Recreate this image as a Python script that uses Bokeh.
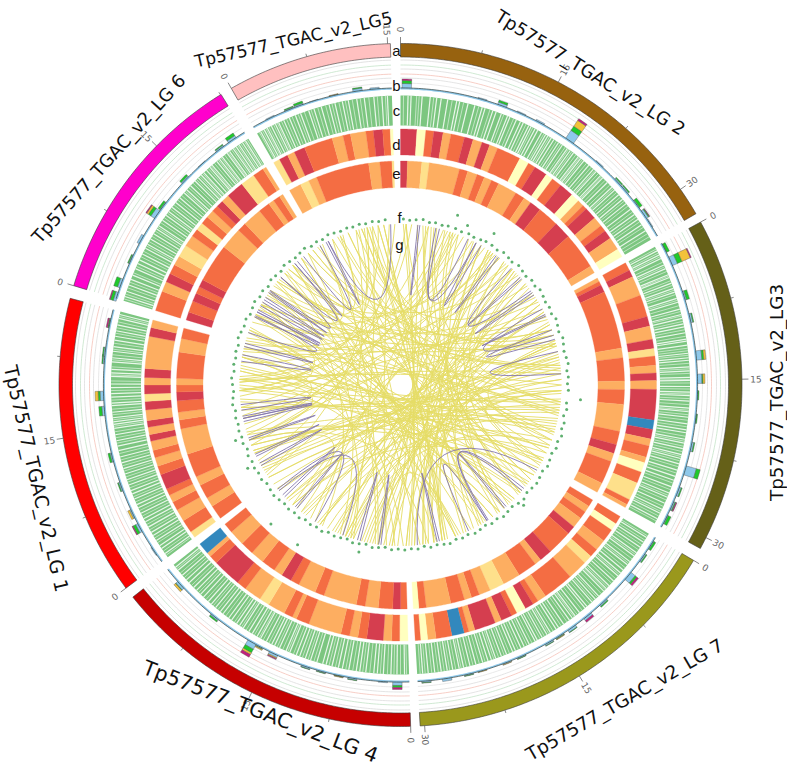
import math
from bokeh.plotting import figure
from bokeh.models import Range1d
from bokeh.core.properties import value
from bokeh.embed import file_html
from bokeh.resources import INLINE

# ---- sectors (name, start angle on the circle, length in Mb) ----
sector_names = ["LG2", "LG3", "LG7", "LG4", "LG1", "LG6", "LG5"]
sector_start = [0.0, 61.5, 120.9, 178.3, 233.5, 286.9, 330.3]
sector_end = [59.9, 118.6, 176.7, 231.6, 284.7, 328.3, 358.3]
sector_color = ["#97620f", "#656018", "#9a981c", "#c60000", "#ff0000", "#ff00cc", "#ffc0c0"]
deg_per_mb = 1.835

label_text = ["Tp57577_TGAC_v2_LG 2", "Tp57577_TGAC_v2_LG3", "Tp57577_TGAC_v2_LG 7", "Tp57577_TGAC_v2_LG 4",
              "Tp57577_TGAC_v2_LG 1", "Tp57577_TGAC_v2_LG 6", "Tp57577_TGAC_v2_LG5"]
track_letters = ["a", "b", "c", "d", "e", "f", "g"]

# ---- heat tracks d and e: end of each band + class of each band ----
heat_palette = {"R": "#d53e4f", "O": "#f46d43", "L": "#fdae61", "Y": "#fee08b", "P": "#ffffbf", "B": "#3288bd"}
d_stops = {
 "LG2": [3.7,5.7,7.5,9.6,11.4,14.5,16.5,18.6,20.4,22.3,27.8,30,31.7,34.7,36.4,38.7,42,44,45.5,46.5,49.3,51.5,53,55,58,59.9],
 "LG3": [63.4,65,69.5,74.5,76.7,79.7,81.8,83.5,85.6,87.3,89,91,97.9,100,102.2,103.8,106.4,107.7,109.9,112.5,116.6,117.8,118.6],
 "LG7": [122.8,124.5,127.5,130,132,134,138.5,145.5,147.5,148.8,150.8,153,154.3,156.8,158.3,163.1,164.5,165.6,168.4,172,173.9,175.5,176.7],
 "LG4": [180.2,182,183.9,187.6,189.6,191.5,193.5,201,204,205,207,211,213.3,217.3,219.5,226,228,229,231.6],
 "LG1": [235,238,240.8,242.8,244.5,246,249.5,251.5,253.5,255.2,257.3,258.8,260.5,262,264.4,266.3,268,270,271.7,273.7,281,283,284.7],
 "LG6": [291.5,293.8,295.8,298,300.2,303,305.6,307.4,309.2,311,312.8,314.3,315.9,317.7,321.7,325,327.5,328.3],
 "LG5": [331.8,333.8,335.5,338,344.5,347,348.7,352.2,353.9,356,357.7,358.3],
}
d_class = {
 "LG2": "RPORLORLRLOPORPORPLORLORLP", "LG3": "ORLORLRYOLRLRBRLOLPOYOL",
 "LG7": "OPOLOYLOLORPORLRLOBOLPO", "LG4": "POLROLOLOLOLYLOROLB",
 "LG1": "YOLOLOROLOLRLRLRYRLRLRL", "LG6": "OLROLYLOYOLORLRYOL", "LG5": "YRLROLOLOROP",
}
e_stops = {
 "LG2": [1.8,5.5,7.4,15.3,17.5,20,22,24,26,31,33.5,35.5,38.5,44,48.5,58,59.9],
 "LG3": [62.5,63.5,65.5,80.5,83,89,91.2,95,102,105.5,107.8,110,116,118.6],
 "LG7": [122.8,124.5,126.5,129.3,131.5,138,141.3,143,148,152.6,156.4,159.4,161.5,163.4,167,173.4,175.3,176.7],
 "LG4": [180,182,185.7,189.1,191.4,200,202.4,207,209.3,212,214.3,218,221.5,225,229,231.6],
 "LG1": [237.2,239.7,243.4,245.8,252,258.7,261,263,266,268.2,270,271.7,278.5,282,284.7],
 "LG6": [289,292,294.2,296,298,308,313.7,316,321,324,325.5,327.3,328.3],
 "LG5": [333.5,335.8,338,351.8,354.7,357.8,358.3],
}
e_class = {
 "LG2": "RLYLOLOLOLOLROROL", "LG3": "LOROLOLOLORLOL",
 "LG7": "OLOLRORLOLYLOLOLOP", "LG4": "OROLOLOLORLOLOLO",
 "LG1": "OLOLOLOLOROLOLO", "LG6": "ROROROLOLOLOL", "LG5": "LYLOLOY",
}

# ---- track b: stacked bars (position on circle, blue, green, yellow, pink) ----
b_pos = [1.2,16,20,24,28,34.7,42,47,49,52.5,55,57,
         62.6,65.4,72.5,77,84.3,88.8,92,96.5,102,106.7,111,114,116.9,
         122.6,125.5,130,137,141,144.8,147.6,150,156,159,164,166.7,171,175,
         180.6,183.4,189.3,192,195.5,198.6,205.3,208.5,210,218.7,227.7,
         236,241.3,244.3,250,255.9,265,267.9,275,276.4,282,
         287.3,290,295,299.3,305,307,313.6,318,322.6,325.5,
         334,338,340,343,347,351.7,355]
b_blue = [5,1.5,3,1.5,2,10,1.5,2,2,1.5,3,1.5,
          1,6,2,2.5,6,5,1,1,2.5,11,2.5,2,1.5,
          1.5,2,6,2,3,3,1.5,2,1.5,1.5,1,1.5,3,2,
          4,1.5,2,1,1.5,2,3,1.5,6,2,3,
          1.5,3,2,2,2,3,4,2,2,1,
          3,3,1.5,3,5,1.5,2,1,2,3,
          1.5,1.5,2,1,1,3,2]
b_green = [3,0,2,0,0,5,0,1,1,3,1,0,
           3,5,3,1,2,1,1,1,1,4,1,1,3,
           2,1,2,1,0,0.5,0.5,0.5,0.5,0,0,0.5,0,0.5,
           2,0,0.5,0.5,0.5,0.5,0,0.5,4,1.5,0.5,
           0,3,0,1,2,3,2,1,1,1,
           3,4,1,0,3,2,2,0,1,3,
           0,1,2,0,0,1,0]
b_yellow = [0,0,0,0,0,7,0,0,0,0,0,0,
            0,9,0,0,2,2,0,0,0,0,0,0,0,
            0,0,0,0,0,0,0.5,0,0,0.5,0.5,0,0,0,
            0,0,0,0.5,0,0,1,1,2,0,2,
            0,0,2,0,0,0,3,0,0,0,
            0,0,0,0,2,0,0,0,0,0,
            0,0,0,0,0.5,0,0]
b_pink = [1.5,0,0,0,0,2,0,0,0,0,0.5,0,
          0,1,0,0,0,0,0,0,0,0,0,1,0,
          0,0,2,0,2,0,0,0,0,0,0,0,0,0,
          2,0,0,0,0,0,1,0,3,0,0,
          0,1,0,0,0,0,0,0,0,1.5,
          1,0,0,0,1,0,0,0,0,0,
          0,0,0,0,0,0,0]

# ---- track c: positions of the pale gaps between the green marks ----
c_gaps = {
 "LG2": [1.5,2.1,4.3,5.9,7.2,8.1,9.4,11.2,11.8,13.5,14.9,16.4,17,18.6,19.3,20.4,21.7,22.2,23.6,24.5,25.1,26.3,26.8,27.7,28.3,29.2,30.1,30.6,31.4,32,33.1,34,35.2,35.9,36.7,37.9,38.5,39.3,40.6,41.8,42.5,43.7,44.3,45.6,46.9,47.7,48.9,50.1,51.2,52.6,53.9,55.1,56.4,57.8],
 "LG3": [62.4,63.3,64.1,65.5,66.3,67.6,68.2,69.4,70.5,71.3,72.6,73.4,74.8,75.9,76.7,77.8,78.4,79.6,80.9,81.3,82.1,83.7,84.6,85.1,86.4,87.2,88.5,89.1,90.3,91.4,92.1,93.2,94.6,95.3,96.4,97.7,98.9,99.5,100.8,101.6,102.7,103.9,104.7,105.8,107.1,108.4,109.2,110.6,111.9,112.8,114.1,115.4,116.3,117.5],
 "LG7": [121.8,122.9,124.1,125.4,126.2,127.6,128.4,129.7,130.5,131.3,132.6,133.9,134.7,135.4,136.8,137.7,138.6,139.9,140.4,141.8,142.9,143.6,144.3,145.7,146.9,147.5,148.8,149.6,150.7,151.8,152.3,153.6,154.7,155.4,156.6,157.2,158.5,159.6,160.8,161.7,162.4,163.5,164.9,166.1,167.4,168.3,169.6,170.7,171.9,173.2,174.5,175.6],
 "LG4": [179.2,180.7,181.9,183.4,184.6,185.3,186.9,188.1,188.8,190.3,191.6,192.4,193.7,194.9,195.6,196.8,198.1,199.2,200.4,201.1,202.5,203.3,204.7,205.8,206.4,207.6,208.9,209.7,210.8,211.6,212.9,213.8,214.5,215.7,216.4,217.8,218.5,219.7,220.8,221.6,222.9,223.7,224.8,225.6,226.9,227.7,228.9,230.2,231],
 "LG1": [234.4,235.6,236.3,237.5,238.7,239.4,240.6,241.8,242.5,243.7,244.9,245.6,246.8,247.9,248.6,249.8,250.9,252.1,253.2,254.4,255.6,256.9,257.8,258.9,260.1,261.4,262.2,262.7,263.5,264.6,265.9,266.4,267.6,268.3,269.5,270.2,271.7,272.4,273.1,274.6,275.4,276.7,277.6,278.9,279.7,280.8,282,283.3,284.1],
 "LG6": [287.8,288.9,290.2,291.4,292.3,293.7,294.8,295.6,296.9,298.2,299.1,300.3,301.5,302.6,303.4,304.7,305.9,306.8,307.9,309.1,310.3,311.6,312.4,313.5,314.8,315.7,316.5,317.2,317.9,318.8,319.4,320.6,321.3,322,323.2,323.8,324.7,325.4,326.1,326.9,327.6],
 "LG5": [331.1,331.9,332.6,333.5,334.4,335.1,336.2,337.4,338.7,339.8,341.5,342.6,344.1,345.7,346.9,348.4,349.6,351.3,352.8,354.7,356.3,357.4],
}
c_fine = {
 "LG2": [0.6,3.2,3.7,6.6,10.3,12.6,15.7,18,20.9,23,25.7,27.2,29.7,31,32.6,33.6,34.7,35.5,36.3,37.3,38.2,38.9,40,41.2,42.2,43.1,44,45,46.3,47.3,48.3,49.5,50.6,51.8,53.3,54.5,55.7,57,58.5,59.2],
 "LG3": [62,62.9,63.7,64.9,65.9,66.9,67.9,68.9,69.9,70.9,71.8,73,74.1,75.3,76.2,77.3,79,80.3,82.7,83.2,84.1,85.7,86.8,87.7,88.9,89.6,90.8,91.8,92.7,93.9,95,95.9,97,98.3,100.2,101.2,102.2,103.3,104.3,105.2,106.4,107.7,109.8,111.2,112.4,113.4,114.8,115.9,116.9,118],
 "LG7": [121.4,122.4,123.5,124.7,125.8,126.9,128,129.1,130.9,132,133.2,134.3,135,136.1,137.2,138.2,139.2,141.1,142.4,143.2,144.9,146.3,148.2,149.2,150.2,151.2,153,154.1,156,157.9,159,160.2,161.2,163,164.2,165.5,166.8,167.9,169,170.2,171.3,172.5,173.8,175.1,176.1],
 "LG4": [178.8,180,181.3,182.6,184,186.1,187.5,189.5,190.9,193,194.3,197.4,198.6,199.8,201.7,202.9,204,205.2,207,208.3,209.2,210.3,212.2,213.3,215,217.1,219.1,220.3,222.2,224.2,226.2,228.3,229.5,230.6],
 "LG1": [234,235,237,238.1,240,241.2,243.1,244.3,246.2,247.3,249.2,250.4,251.5,252.7,253.8,255,256.3,258.4,259.5,260.7,261.8,263.1,264.1,265.2,267,268.9,270.8,272,273.6,275,276,277.1,278.3,280.3,281.4,282.6,283.7],
 "LG6": [287.3,288.3,289.6,290.8,292.8,294.2,296.3,297.5,298.7,299.7,300.9,302.1,303,304.1,305.3,306.4,307.4,308.5,309.7,310.9,312,313,314.2,315.2,316.1,316.9,318.4,319.1,320,321,321.7,322.6,323.5,324.3,325,325.8,326.5,327.3,328],
 "LG5": [330.8,331.5,332.3,333,334,334.8,335.7,336.8,338,339.3,340.6,342,343.4,345,346.3,347.7,349,350.4,352,353.7,355.4,357],
}

# ---- track f: points (position on circle, radial value) ----
f_angle = [1,3.2,5.4,7.8,10.1,12.2,14.6,16.7,18.6,19.4,21.7,22.8,24.3,26.4,28.9,30.8,31.7,33.2,35.6,37.9,40.3,42.2,44.7,46.9,49.1,51.4,53.6,55.7,58.1,60.2,
           62.4,64.7,66.9,69.2,71.4,73.8,75.9,78.3,80.6,82.7,85.1,87.3,89.6,91.8,94.7,96.2,98.4,100.7,103.1,105.2,107.6,109.8,112.1,114.3,116.7,118.9,
           121.2,123.6,125.8,128.1,130.4,132.7,134.3,135.1,137.4,139.7,141.9,144.2,146.6,148.8,151.1,153.3,155.7,157.9,160.2,162.6,164.7,167.1,169.4,171.6,173.9,176.2,
           178.5,180.8,183.1,185.4,187.7,189.9,192.2,194,194.6,196.9,199.1,201.4,203.7,206.1,208.3,210.6,212.8,212.9,215.2,217.4,219.7,222.1,223,224.3,226.6,228.9,231.2,
           233.6,235.8,238.2,240.4,241.4,242.7,245.1,247.3,249.6,251.4,251.9,254.1,256.4,258.7,261.1,263.3,265.6,267.8,270.2,272.4,274.7,277.1,279.3,281.6,283.8,
           286.2,288.4,290.7,293.1,295.2,297.6,299.8,302.1,304.4,306.7,309.1,311.2,313.6,315.8,318.1,320.4,322.7,324.9,327.3,329.6,331.8,334.2,336.4,338.7,341.1,343.2,345.6,347.8,350.2,352.4,354.7,356.9,359.2]
f_radius = [166,165,166,167,165,166,165,166,179,166,165,173,166,165,166,167,178,167,166,168,167,166,168,167,166,168,167,169,168,167,
            168,167,169,168,167,169,168,167,168,169,167,168,167,168,180.6,167,168,166,168,167,169,167,168,166,167,168,
            166,167,168,167,166,168,172,167,165,166,167,165,166,164,165,166,164,165,164,166,165,164,165,163,165,164,
            165,164,165,163,164,165,163,172,164,165,163,164,165,164,166,165,190,166,165,167,166,167,190,166,167,168,167,
            166,168,167,168,174,167,168,166,168,174,167,168,167,168,167,169,168,167,168,169,167,168,167,
            168,167,169,168,167,168,166,167,168,166,167,165,167,166,165,167,166,165,166,167,165,166,165,167,166,165,166,165,166,165,166,165,166]

# ---- track g: link ends ----
purple_a = [356.5,333.3,6.2,12.7,14,36.5,43.5,55,61.8,70,78,122,130,147,155,187,194.5,201,212,226,240,243.7,256.9,261,278.5,283.8,289,295,299.5,306,312,319,323,28,
            305,302,297,258,250,220,166,139,64,48]
purple_b = [333.3,332.5,6.9,28,24.8,37.5,54.2,56,72,73.5,86,174,147.5,131,147.5,187.8,195.5,229,229.7,227,241,244.5,258,263,280.8,285,295.5,297,301,312,319,320.2,330,30,
            305.6,303,297.8,258.8,250.8,220.8,166.8,139.8,64.6,48.8]
yellow_a = [2,4,8,10,13,15.5,17,19,21,23,25,26.5,30,31.5,33,35,38,40,42,45,47,49,51,53,57,59,
            63,65,67,70,74,76,79,81,83,85,88,90,92,95,97,99,101,103,105,108,110,113,115,117,
            124,126,128,132,133,136,138,140,142,145,149,151,153,156,158,160,163,165,168,170,172,175,
            179,182,184,186,189,191,193,197,199,200,202,205,207,209,211,214,216,218,220,222,225,230,
            235,237,239,242,246,248,250,252,254,259,262,264,266,268,271,273,275,277,282,
            287,291,293,298,301,303,305,308,310,314,316,325,327,329,335,337,341,344,346,348,350,352,354,
            250,256,268,272,304,312,318,10,44,80,92,140,160,200,218,
            1,6,11,18,27,34,41,46,52,58,64,72,78,86,93,100,106,112,119,123,129,135,143,150,157,164,171,177,
            181,188,194,203,210,217,224,232,238,245,253,261,269,276,284,289,296,306,315,322,331,339,347,356]
yellow_b = [118,252,132,278,96,268,248,142,300,262,150,285,165,314,178,128,272,120,210,170,283,140,164,188,250,300,
            175,310,178,295,190,306,240,192,325,318,200,235,183,270,344,286,305,210,248,296,338,265,322,275,
            222,346,250,268,12,295,350,30,280,318,335,352,48,18,290,250,348,60,75,272,21,75,
            300,280,45,60,325,33,80,300,92,40,318,51,115,310,75,19,68,100,38,82,55,110,
            86,348,97,358,70,102,35,124,20,42,98,118,62,352,90,2,131,104,66,
            74,142,36,83,148,96,135,30,107,160,84,70,44,72,188,126,56,212,112,75,198,132,165,
            272,280,290,296,330,338,345,34,72,110,118,168,188,225,245,
            176,183,168,201,204,172,222,198,236,229,241,258,246,271,262,283,281,197,299,311,316,309,327,322,341,349,354,2,
            9,16,28,37,44,63,58,68,76,84,99,88,107,96,113,121,127,137,145,154,159,173,167,185]

# ---- styling and scale ----
cx, cy = 400.0, 384.5
R_TICK0, R_A1, R_A0 = 348.0, 341.5, 328.0
R_BASE, R_C1, R_C0 = 296.5, 289.5, 259.5
R_D1, R_D0, R_E1, R_E0 = 256.0, 230.0, 224.0, 197.5
R_LINK, R_CTRL = 161.0, 20.0
grid_r = [325, 320, 316, 311, 307, 302]
grid_c = ["#dadada", "#c4e3c8", "#dddddd", "#f5c2b8", "#dddddd", "#e3e3e3"]


def P(r, deg):
    a = math.radians(deg)
    return cx + r * math.sin(a), cy - r * math.cos(a)


def band(r0, r1, a0, a1):
    n = max(2, int(abs(a1 - a0) / 0.5) + 1)
    angs = [a0 + (a1 - a0) * i / n for i in range(n + 1)]
    out = [P(r1, t) for t in angs] + [P(r0, t) for t in reversed(angs)]
    return [q[0] for q in out], [q[1] for q in out]


def arc(r, a0, a1):
    n = max(2, int(abs(a1 - a0) / 0.5) + 1)
    pts = [P(r, a0 + (a1 - a0) * i / n) for i in range(n + 1)]
    return [q[0] for q in pts], [q[1] for q in pts]


p = figure(width=787, height=769, output_backend="svg", toolbar_location=None,
           x_range=Range1d(0, 787), y_range=Range1d(769, 0), min_border=0, outline_line_color=None)
p.axis.visible = False
p.grid.visible = False
p.background_fill_color = "white"

# ring a and its ticks
xs, ys = zip(*[band(R_A0, R_A1, s, e) for s, e in zip(sector_start, sector_end)])
p.patches(list(xs), list(ys), fill_color=sector_color, line_color="#3a3a3a", line_width=0.6)
tx0, ty0, tx1, ty1, lab, lx, ly, la = [], [], [], [], [], [], [], []
for s, e in zip(sector_start, sector_end):
    k = 0
    while s + k * 7.5 * deg_per_mb <= e:
        t = s + k * 7.5 * deg_per_mb
        major = k % 2 == 0
        a = P(R_A1, t)
        b = P(R_TICK0 if major else R_A1 + 3, t)
        tx0.append(a[0]); ty0.append(a[1]); tx1.append(b[0]); ty1.append(b[1])
        if major:
            c = P(355.5, t)
            lab.append(str(int(k * 7.5))); lx.append(c[0]); ly.append(c[1])
            la.append(math.radians(90 - t if t <= 180 else 270 - t))
        k += 1
p.segment(tx0, ty0, tx1, ty1, line_color="#555555", line_width=0.7)
p.text(lx, ly, text=lab, angle=la, text_font_size="9px", text_color="#666666", text_align="center",
       text_baseline="middle", text_font=value("DejaVu Sans"))

# ring b grid
gx, gy, gc = [], [], []
for r, c in zip(grid_r, grid_c):
    for s, e in zip(sector_start, sector_end):
        ax, ay = arc(r, s, e)
        gx.append(ax); gy.append(ay); gc.append(c)
p.multi_line(gx, gy, line_color=gc, line_width=0.8)

# ring b bars
bar_w = 1.8
bxs, bys, bcs = [], [], []
stack_colors = ["#8ec8ea", "#1fc92b", "#f2c23a", "#c2207d"]
for pos, bl, gr, ye, pk in zip(b_pos, b_blue, b_green, b_yellow, b_pink):
    r = R_BASE
    for h, c in zip((bl, gr, ye, pk), stack_colors):
        if h > 0:
            bx, by = band(r, r + h, pos - bar_w / 2, pos + bar_w / 2)
            bxs.append(bx); bys.append(by); bcs.append(c)
            r += h
p.patches(bxs, bys, fill_color=bcs, line_color="#555555", line_width=0.4)
base = [band(R_BASE - 1.0, R_BASE + 0.6, s, e) for s, e in zip(sector_start, sector_end)]
p.patches([b[0] for b in base], [b[1] for b in base], fill_color="#8ec8ea", line_color=None)
top = [arc(R_BASE + 0.6, s, e) for s, e in zip(sector_start, sector_end)]
p.multi_line([b[0] for b in top], [b[1] for b in top], line_color="#33403c", line_width=0.7)

# ring c
cb = [band(R_C0, R_C1, s, e) for s, e in zip(sector_start, sector_end)]
p.patches([b[0] for b in cb], [b[1] for b in cb], fill_color="#7cc680", line_color=None)
for gaps, w, alpha in ((c_gaps, 1.2, 0.9), (c_fine, 0.7, 0.8)):
    wx, wy = [], []
    for name in sector_names:
        for t in gaps[name]:
            a, b = P(R_C0, t), P(R_C1, t)
            wx.append([a[0], b[0]]); wy.append([a[1], b[1]])
    p.multi_line(wx, wy, line_color="#f6fcf6", line_width=w, line_alpha=alpha)

# rings d and e
for stops, cls, r0, r1 in ((d_stops, d_class, R_D0, R_D1), (e_stops, e_class, R_E0, R_E1)):
    hx, hy, hc = [], [], []
    for name, s in zip(sector_names, sector_start):
        a0 = s
        for a1, k in zip(stops[name], cls[name]):
            bx, by = band(r0, r1, a0, a1)
            hx.append(bx); hy.append(by); hc.append(heat_palette[k])
            a0 = a1
    p.patches(hx, hy, fill_color=hc, line_color=hc, line_width=0.3)


# links
def link_glyph(a_list, b_list, color, width):
    pa = [P(R_LINK, t) for t in a_list]
    pb = [P(R_LINK, t) for t in b_list]
    ctrl = []
    for s, t in zip(a_list, b_list):
        m = (s + t) / 2 if abs(s - t) <= 180 else (s + t) / 2 + 180
        ctrl.append(P(R_CTRL, m))
    p.quadratic(x0=[q[0] for q in pa], y0=[q[1] for q in pa], x1=[q[0] for q in pb], y1=[q[1] for q in pb],
                cx=[q[0] for q in ctrl], cy=[q[1] for q in ctrl], line_color=color, line_width=width)


link_glyph(yellow_a, yellow_b, "#e5dc66", 0.9)
link_glyph(purple_a, purple_b, "#8577ad", 0.9)

# points
fp = [P(r, t) for r, t in zip(f_radius, f_angle)]
p.scatter([q[0] for q in fp], [q[1] for q in fp], size=3, marker="circle", fill_color="#5fb070", line_color=None)

# outer labels
lab_xy = [(590, 72), (776, 392), (624, 699), (260, 711), (36, 478), (108, 158), (293, 39)]
lab_rot = [-32, 90, 30, -21, -77, 48, 12.7]
lab_size = ["18px", "18.3px", "18.4px", "20.5px", "19px", "18px", "17px"]
for t, (x, y), r, s in zip(label_text, lab_xy, lab_rot, lab_size):
    p.text([x], [y], text=[t], angle=[math.radians(r)], text_font_size=s, text_color="#111111",
           text_align="center", text_baseline="middle", text_font=value("DejaVu Sans"))

# track letters
let_y = [50, 85, 110, 144, 173, 217, 244]
let_x = [396, 396, 396, 396, 396, 399, 399]
p.text(let_x, let_y, text=track_letters, text_font_size="15px", text_color="#111111", text_align="center",
       text_baseline="middle", text_font=value("Liberation Sans"))

open("out.html", "w").write(file_html(p, INLINE))
